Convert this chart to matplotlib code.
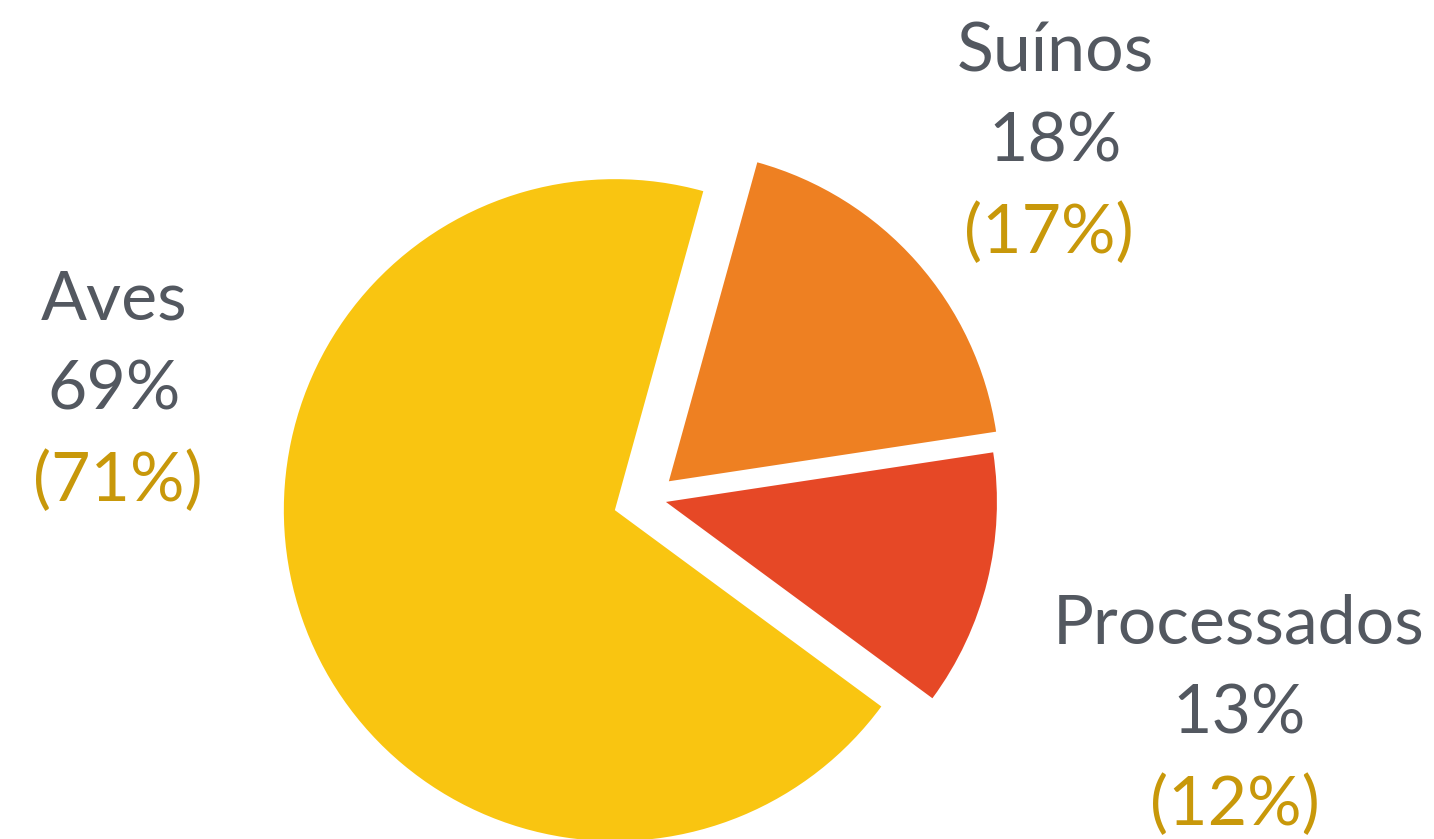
import matplotlib
matplotlib.use("Agg")
import matplotlib.pyplot as plt

# Data (order as drawn clockwise from the top-right boundary)
categories = ["Suínos", "Processados", "Aves"]
values = [18.3, 12.5, 69.2]
pct_labels = ["18%", "13%", "69%"]
prev_labels = ["(17%)", "(12%)", "(71%)"]
colors = ["#EE8022", "#E64826", "#F9C511"]

W, H = 1434, 839
fig = plt.figure(figsize=(W / 100, H / 100), dpi=100)
ax = fig.add_axes([0, 0, 1, 1])

R = 331
# explode distances in data units (pixels here)
explode = [25.2, 16.4, 37.2]
ax.pie(values, colors=colors, explode=explode, startangle=74.5,
       counterclock=False, radius=R, center=(650, H - 498),
       wedgeprops=dict(linewidth=0))
ax.set_xlim(0, W)
ax.set_ylim(0, H)
ax.set_aspect("equal")
ax.axis("off")

grey = "#535860"
gold = "#C8980A"
font = "Lato"
fs = 49
# label layout: (centre x, baseline of first line from top, x shift of third line)
label_pos = {"Suínos": (1055, 71, -6),
             "Processados": (1239, 643, -4),
             "Aves": (114, 319, 4)}
step = 91
for cat, p, q in zip(categories, pct_labels, prev_labels):
    x, y, dx = label_pos[cat]
    ax.text(x, H - y, cat, ha="center", va="baseline", fontsize=fs,
            color=grey, family=font)
    ax.text(x, H - (y + step), p, ha="center", va="baseline", fontsize=fs,
            color=grey, family=font)
    ax.text(x + dx, H - (y + 2 * step), q, ha="center", va="baseline",
            fontsize=fs, color=gold, family=font)

fig.savefig("out.png", dpi=100, facecolor="white")
